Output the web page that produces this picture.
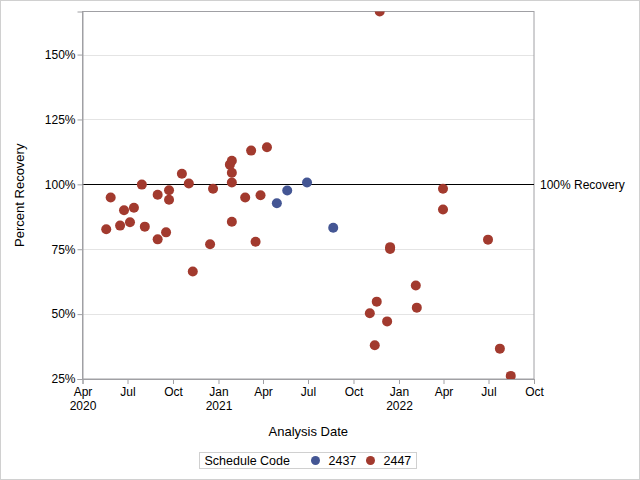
<!DOCTYPE html>
<html>
<head>
<meta charset="utf-8">
<script src="https://cdn.jsdelivr.net/npm/d3@7"></script>
<style>
  body { margin: 0; background: #fff; }
  svg { font-family: 'Liberation Sans', Arial, sans-serif; }
</style>
</head>
<body>
<div id="chart"></div>
<script>
// schedule code 2447
const dates2447 = [
  '2020-05-19', '2020-05-28', '2020-06-16', '2020-06-24', '2020-07-06', '2020-07-14',
  '2020-07-30', '2020-08-05', '2020-08-31', '2020-08-31', '2020-09-17', '2020-09-23',
  '2020-09-23', '2020-10-19', '2020-11-02', '2020-11-10', '2020-12-15', '2020-12-21',
  '2021-01-24', '2021-01-28', '2021-01-28', '2021-01-28', '2021-01-28', '2021-02-24',
  '2021-03-08', '2021-03-17', '2021-03-27', '2021-04-09',
  '2021-11-03', '2021-11-13', '2021-11-17', '2021-11-23', '2021-12-08', '2021-12-14',
  '2021-12-14', '2022-02-04', '2022-02-06', '2022-03-31', '2022-03-31', '2022-06-30',
  '2022-07-24', '2022-08-15'
]
const values2447 = [
  82.7, 94.9, 84.1, 90.0, 85.4, 91.0,
  99.9, 83.7, 96.0, 78.8, 81.5, 97.7,
  94.1, 104.1, 100.3, 66.4, 76.9, 98.3,
  107.6, 109.1, 104.5, 100.7, 85.6, 94.9,
  113.0, 77.9, 95.8, 114.3,
  50.3, 38.0, 54.8, 166.6, 47.2, 75.8,
  75.1, 61.0, 52.5, 98.3, 90.3, 78.7,
  36.7, 26.2
]

// schedule code 2437
const dates2437 = ['2021-04-29', '2021-05-20', '2021-06-29', '2021-08-21']
const values2437 = [92.7, 97.6, 100.7, 83.3]

const codes = ['2437', '2447']
const colors = ['#445694', '#A23A2E']
const yTicks = [25, 50, 75, 100, 125, 150]
const refValue = 100
const refLabel = '100% Recovery'

const width = 640
const height = 480
const margin = { top: 11.5, left: 82.5, right: 106, bottom: 101 }

const svg = d3
  .select('#chart')
  .append('svg')
  .attr('width', width)
  .attr('height', height)

// outer border
svg
  .append('rect')
  .attr('x', 0.5)
  .attr('y', 0.5)
  .attr('width', width - 1)
  .attr('height', height - 1)
  .attr('fill', 'white')
  .attr('stroke', '#d0d0d0')

const parseDate = d3.timeParse('%Y-%m-%d')

const xScale = d3
  .scaleTime()
  .domain([new Date(2020, 3, 1), new Date(2022, 9, 1)])
  .range([margin.left, width - margin.right])

const yScale = d3
  .scaleLinear()
  .domain([25, 166.6])
  .range([height - margin.bottom, margin.top])

const plotW = width - margin.right - margin.left
const plotH = height - margin.bottom - margin.top

const series = codes.map((code, i) => {
  const ds = code === '2437' ? dates2437 : dates2447
  const vs = code === '2437' ? values2437 : values2447
  return {
    code: code,
    color: colors[i],
    points: ds.map((d, j) => ({ date: parseDate(d), value: vs[j] }))
  }
})

svg
  .append('clipPath')
  .attr('id', 'plot-clip')
  .append('rect')
  .attr('x', margin.left)
  .attr('y', margin.top)
  .attr('width', plotW)
  .attr('height', plotH)

// gridlines
svg
  .selectAll('.grid')
  .data(yTicks.filter(d => d !== 25 && d !== refValue))
  .enter()
  .append('line')
  .attr('x1', margin.left)
  .attr('x2', width - margin.right)
  .attr('y1', d => Math.round(yScale(d)) + 0.5)
  .attr('y2', d => Math.round(yScale(d)) + 0.5)
  .attr('stroke', '#e4e4e4')

// frame
svg
  .append('rect')
  .attr('x', margin.left)
  .attr('y', margin.top)
  .attr('width', plotW)
  .attr('height', plotH)
  .attr('fill', 'none')
  .attr('stroke', '#a0a0a4')

// reference line
const refY = Math.round(yScale(refValue)) + 0.5
svg
  .append('line')
  .attr('x1', margin.left)
  .attr('x2', width - margin.right)
  .attr('y1', refY)
  .attr('y2', refY)
  .attr('stroke', 'black')
svg
  .append('text')
  .text(refLabel)
  .attr('x', width - margin.right + 6)
  .attr('y', refY)
  .attr('dy', '0.35em')
  .attr('font-size', 12)
  .attr('fill', '#000')

// y axis
const yAxis = d3
  .axisLeft(yScale)
  .tickValues(yTicks)
  .tickSize(5)
  .tickFormat(d => d + '%')
const yG = svg
  .append('g')
  .attr('transform', `translate(${margin.left},0)`)
  .call(yAxis)
yG.select('.domain').attr('stroke', '#a0a0a4')
yG.selectAll('.tick line').attr('stroke', '#a0a0a4')
yG.selectAll('.tick text').attr('font-size', 12).attr('fill', '#000').attr('x', -7)
yG.attr('font-family', null)

// x axis
const xTicks = d3.timeMonth.every(3).range(new Date(2020, 3, 1), new Date(2022, 9, 2))
const xAxis = d3
  .axisBottom(xScale)
  .tickValues(xTicks)
  .tickSize(5)
  .tickFormat(d3.timeFormat('%b'))
const xG = svg
  .append('g')
  .attr('transform', `translate(0,${height - margin.bottom})`)
  .call(xAxis)
xG.attr('font-family', null)
xG.select('.domain').attr('stroke', '#a0a0a4')
xG.selectAll('.tick line').attr('stroke', '#a0a0a4')
xG.selectAll('.tick text').attr('font-size', 12).attr('fill', '#000').attr('y', 8)
xG.selectAll('.tick')
  .filter((d, i) => i === 0 || d.getMonth() === 0)
  .append('text')
  .text(d => d.getFullYear())
  .attr('fill', '#000')
  .attr('font-size', 12)
  .attr('y', 22)
  .attr('dy', '0.71em')

// axis labels
svg
  .append('text')
  .text('Analysis Date')
  .attr('x', margin.left + plotW / 2)
  .attr('y', 436)
  .attr('text-anchor', 'middle')
  .attr('font-size', 13)
svg
  .append('text')
  .text('Percent Recovery')
  .attr('transform', `translate(24,${margin.top + plotH / 2}) rotate(-90)`)
  .attr('text-anchor', 'middle')
  .attr('font-size', 13)

// points
const pts = svg.append('g').attr('clip-path', 'url(#plot-clip)')
series.forEach(s => {
  pts
    .selectAll('.pt-' + s.code)
    .data(s.points)
    .enter()
    .append('circle')
    .attr('cx', d => xScale(d.date))
    .attr('cy', d => yScale(d.value))
    .attr('r', 5)
    .attr('fill', s.color)
})

// legend
const legend = svg.append('g').attr('transform', 'translate(199.5,452.5)')
legend
  .append('rect')
  .attr('width', 217)
  .attr('height', 16)
  .attr('fill', 'white')
  .attr('stroke', '#d0d0d0')
legend
  .append('text')
  .text('Schedule Code')
  .attr('x', 5)
  .attr('y', 8)
  .attr('dy', '0.35em')
  .attr('font-size', 12.5)
const legendX = [116, 171]
series.forEach((s, i) => {
  legend
    .append('circle')
    .attr('cx', legendX[i])
    .attr('cy', 8)
    .attr('r', 4.5)
    .attr('fill', s.color)
  legend
    .append('text')
    .text(s.code)
    .attr('x', legendX[i] + 13)
    .attr('y', 8)
    .attr('dy', '0.35em')
    .attr('font-size', 12.5)
})
</script>
</body>
</html>
